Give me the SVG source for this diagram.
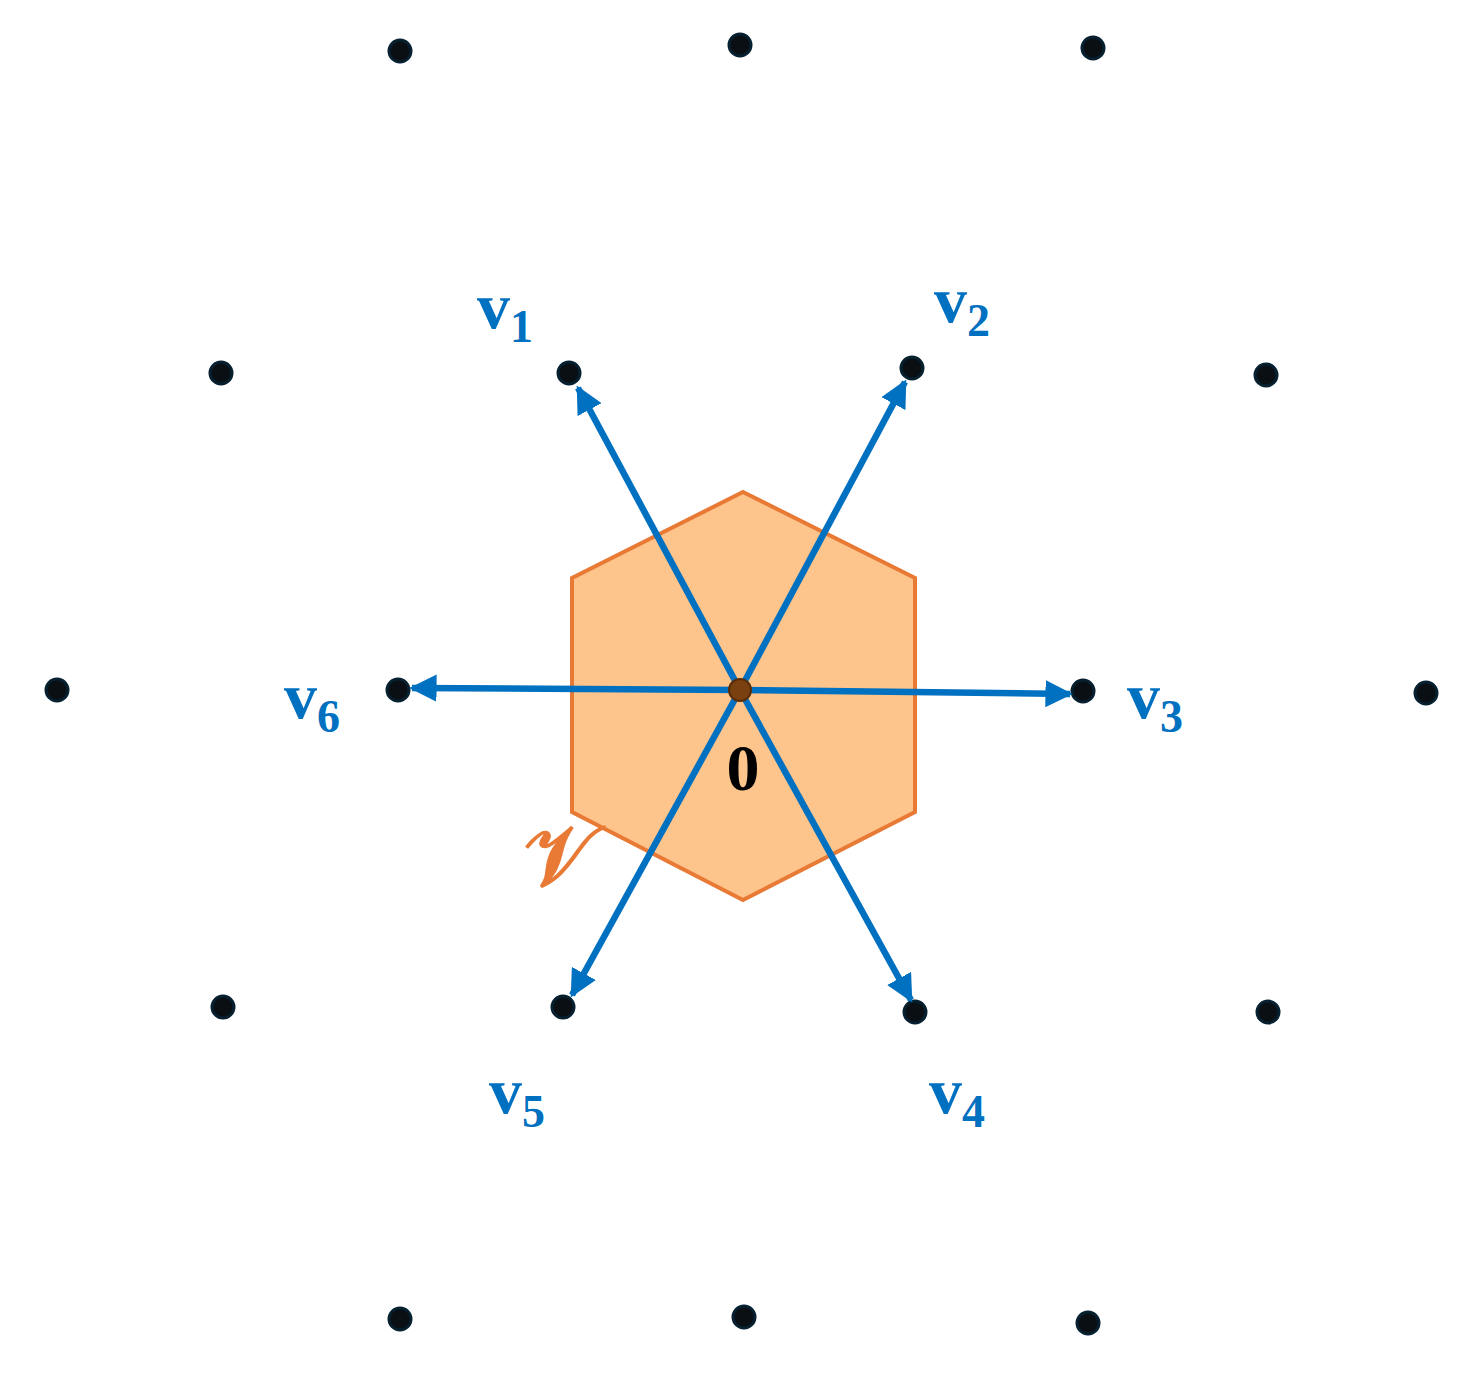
<svg xmlns="http://www.w3.org/2000/svg" width="1478" height="1373" viewBox="0 0 1478 1373">
<style>
.d{fill:#0a0f14;stroke:#062030;stroke-width:3}
.a{stroke:#0070c0;stroke-width:6.5;fill:none;marker-end:url(#ah)}
.l{font-family:"Liberation Serif",serif;font-weight:bold;fill:#0070c0;font-size:66px}
.s{font-size:46px}
</style>
<defs><marker id="ah" viewBox="0 0 10 10" refX="9" refY="5" markerWidth="4.2" markerHeight="4.2" orient="auto" markerUnits="strokeWidth"><path d="M0,0L10,5L0,10z" fill="#0070c0"/></marker></defs>
<rect width="1478" height="1373" fill="#fff"/>
<g id="cell"><polygon points="743,492 915,578 915,812 743,900 572,812 572,578" fill="#fdc48c" stroke="#e87a35" stroke-width="4"/></g>
<g id="lattice">
<circle class="d" cx="400" cy="51" r="11"/><circle class="d" cx="740" cy="45" r="11"/><circle class="d" cx="1093" cy="48" r="11"/>
<circle class="d" cx="221" cy="373" r="11"/><circle class="d" cx="569" cy="373" r="11"/><circle class="d" cx="912" cy="368" r="11"/><circle class="d" cx="1266" cy="375" r="11"/>
<circle class="d" cx="57" cy="690" r="11"/><circle class="d" cx="398" cy="690" r="11"/><circle class="d" cx="1083" cy="691" r="11"/><circle class="d" cx="1426" cy="693" r="11"/>
<circle class="d" cx="223" cy="1007" r="11"/><circle class="d" cx="563" cy="1007" r="11"/><circle class="d" cx="915" cy="1012" r="11"/><circle class="d" cx="1268" cy="1012" r="11"/>
<circle class="d" cx="400" cy="1319" r="11"/><circle class="d" cx="744" cy="1317" r="11"/><circle class="d" cx="1088" cy="1323" r="11"/>
</g>
<g id="connectors">
<line class="a" x1="740" y1="690" x2="578" y2="388"/>
<line class="a" x1="740" y1="690" x2="905" y2="382"/>
<line class="a" x1="740" y1="690" x2="1070" y2="694"/>
<line class="a" x1="740" y1="690" x2="911" y2="1000"/>
<line class="a" x1="740" y1="690" x2="572" y2="995"/>
<line class="a" x1="740" y1="690" x2="412" y2="688"/>
</g>
<circle cx="740" cy="690" r="11" fill="#7a4010" stroke="#5a2e08" stroke-width="2"/>
<g id="labels">
<text class="l" x="477" y="328">v<tspan class="s" dy="14">1</tspan></text>
<text class="l" x="934" y="322">v<tspan class="s" dy="14">2</tspan></text>
<text class="l" x="1127" y="718">v<tspan class="s" dy="14">3</tspan></text>
<text class="l" x="929" y="1113">v<tspan class="s" dy="14">4</tspan></text>
<text class="l" x="489" y="1113">v<tspan class="s" dy="14">5</tspan></text>
<text class="l" x="284" y="718">v<tspan class="s" dy="14">6</tspan></text>
<text x="743" y="790" text-anchor="middle" font-family="Liberation Serif,serif" font-weight="bold" font-size="66" fill="#000">0</text>
<text x="524" y="885" font-family="DejaVu Serif,serif" font-size="84" fill="#e87a35" stroke="#e87a35" stroke-width="2.5">𝒱</text>
</g>
</svg>
